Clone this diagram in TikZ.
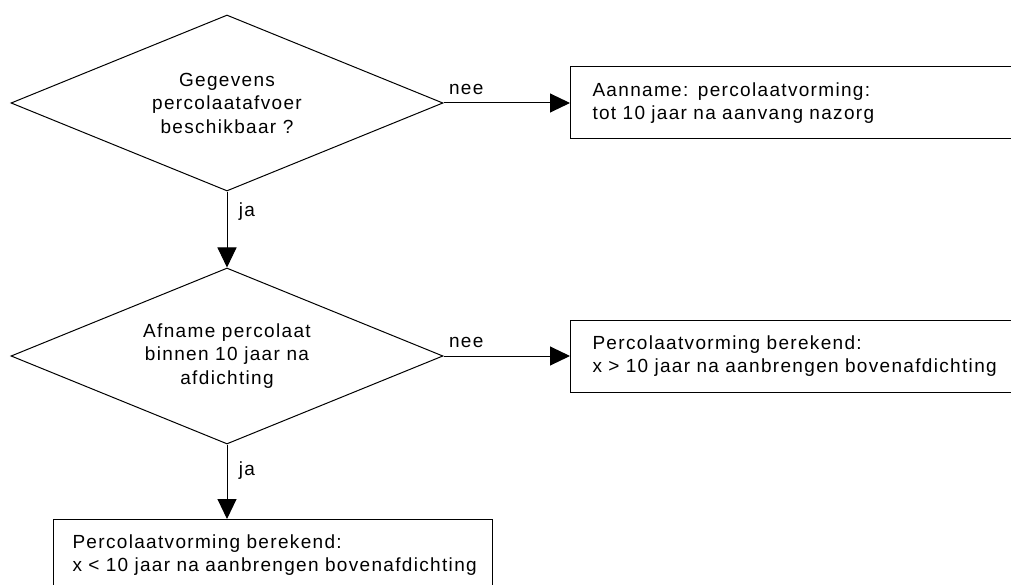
\documentclass[tikz,border=0pt]{standalone}
\usepackage{fontspec}
\setmainfont{Liberation Sans}[LetterSpace=7.0]
\usetikzlibrary{shapes.geometric,arrows.meta}
\tikzstyle{decision} = [diamond, aspect=2.45, minimum width=432pt, minimum height=176pt, inner sep=0pt, align=center, draw, line width=1pt, font=\fontsize{19pt}{23.5pt}\selectfont]
\tikzstyle{outcome} = [rectangle, align=left, inner xsep=22pt, minimum height=72pt, draw, line width=1pt, font=\fontsize{19pt}{23pt}\selectfont]
\tikzstyle{arrow} = [line width=1pt,-{Triangle[length=20pt,width=19pt]}]

\begin{document}
\begin{tikzpicture}[node distance=253pt, font=\fontsize{19pt}{22pt}\selectfont]
\useasboundingbox (0,0) rectangle (1011pt,-585pt);
\clip (0,0) rectangle (1011pt,-585pt);
\node (gegevens) [decision] at (227pt,-103pt) {Gegevens\\percolaatafvoer\\beschikbaar ?};
\node (afname) [decision, below of=gegevens] {Afname percolaat\\binnen 10 jaar na\\afdichting};

\node (aanname) [outcome, right of=gegevens, anchor=west, xshift=90pt, text width=416pt] {Aanname: percolaatvorming:\\tot 10 jaar na aanvang nazorg};
\node (groter) [outcome, right of=afname, anchor=west, xshift=90pt, text width=416pt] {Percolaatvorming berekend:\\x > 10 jaar na aanbrengen bovenafdichting};
\node (kleiner) [outcome, below of=afname, anchor=north, xshift=45.5pt, yshift=90pt, inner xsep=19.5pt, text width=400pt] {Percolaatvorming berekend:\\x < 10 jaar na aanbrengen bovenafdichting};

\draw [arrow] (gegevens) -- node[anchor=south, pos=0.18, yshift=4pt] {nee} (aanname);
\draw [arrow] (gegevens) -- node[anchor=west, pos=0.27, xshift=8pt] {ja} (afname);
\draw [arrow] (afname) -- node[anchor=south, pos=0.18, yshift=4pt] {nee} (groter);
\draw [arrow] (afname.south) -- node[anchor=west, pos=0.35, xshift=8pt] {ja} (afname.south |- kleiner.north);
\end{tikzpicture}
\end{document}
